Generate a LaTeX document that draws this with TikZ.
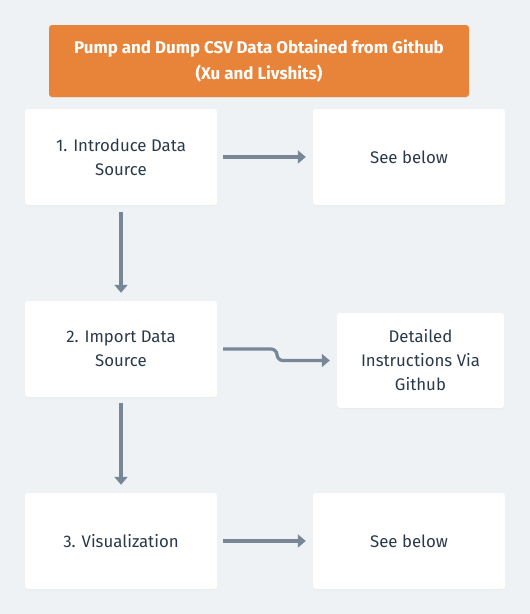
\documentclass[tikz,border=0pt]{standalone}
\usepackage{fontspec}
\setmainfont{Fira Sans}
\usetikzlibrary{arrows.meta,shadows}
\definecolor{bg}{HTML}{EEF2F5}
\definecolor{hdr}{HTML}{E8843A}
\definecolor{ln}{HTML}{778797}
\definecolor{tx}{HTML}{2A3A4A}
\tikzset{
  box/.style={fill=white, rounded corners=3pt, inner sep=0pt, align=center,
    text=tx, font=\fontsize{16.8}{24}\selectfont,
    drop shadow={shadow xshift=0pt, shadow yshift=-1pt, opacity=0.06}},
  hbox/.style={box, fill=hdr, text=white, font=\fontsize{16.9}{26}\selectfont\bfseries},
  conn/.style={draw=ln, line width=3.2pt, -{Triangle[length=8pt,width=13pt]}}
}
\begin{document}
\begin{tikzpicture}[x=1pt,y=-1pt]
\fill[bg] (0,0) rectangle (530,614);
\useasboundingbox (0,0) rectangle (530,614);
\node[hbox, minimum width=420pt, minimum height=72pt] (header) at (259,61)
  {Pump and Dump CSV Data Obtained from Github\\(Xu and Livshits)};
\node[box, minimum width=192pt, minimum height=96pt] (n1) at (121,157) {1. Introduce Data\\Source};
\node[box, minimum width=192pt, minimum height=96pt] (s1) at (409,157) {See below};
\node[box, minimum width=192pt, minimum height=96pt] (n2) at (121,349) {2. Import Data\\Source};
\node[box, minimum width=167pt, minimum height=95pt] (d2) at (420.5,360.5) {Detailed\\Instructions Via\\Github};
\node[box, minimum width=192pt, minimum height=96pt] (n3) at (121,541) {3. Visualization};
\node[box, minimum width=192pt, minimum height=96pt] (s3) at (409,541) {See below};
\draw[conn, shorten <=6pt, shorten >=7pt] (n1) -- (s1);
\draw[conn, shorten <=7pt, shorten >=8pt] (n1) -- (n2);
\draw[conn, shorten <=6pt, shorten >=7pt, rounded corners=6pt] (n2.east) -- (277,349) -- (277,360.5) -- (d2.west);
\draw[conn, shorten <=6pt, shorten >=8pt] (n2) -- (n3);
\draw[conn, shorten <=6pt, shorten >=7pt] (n3) -- (s3);
\end{tikzpicture}
\end{document}
